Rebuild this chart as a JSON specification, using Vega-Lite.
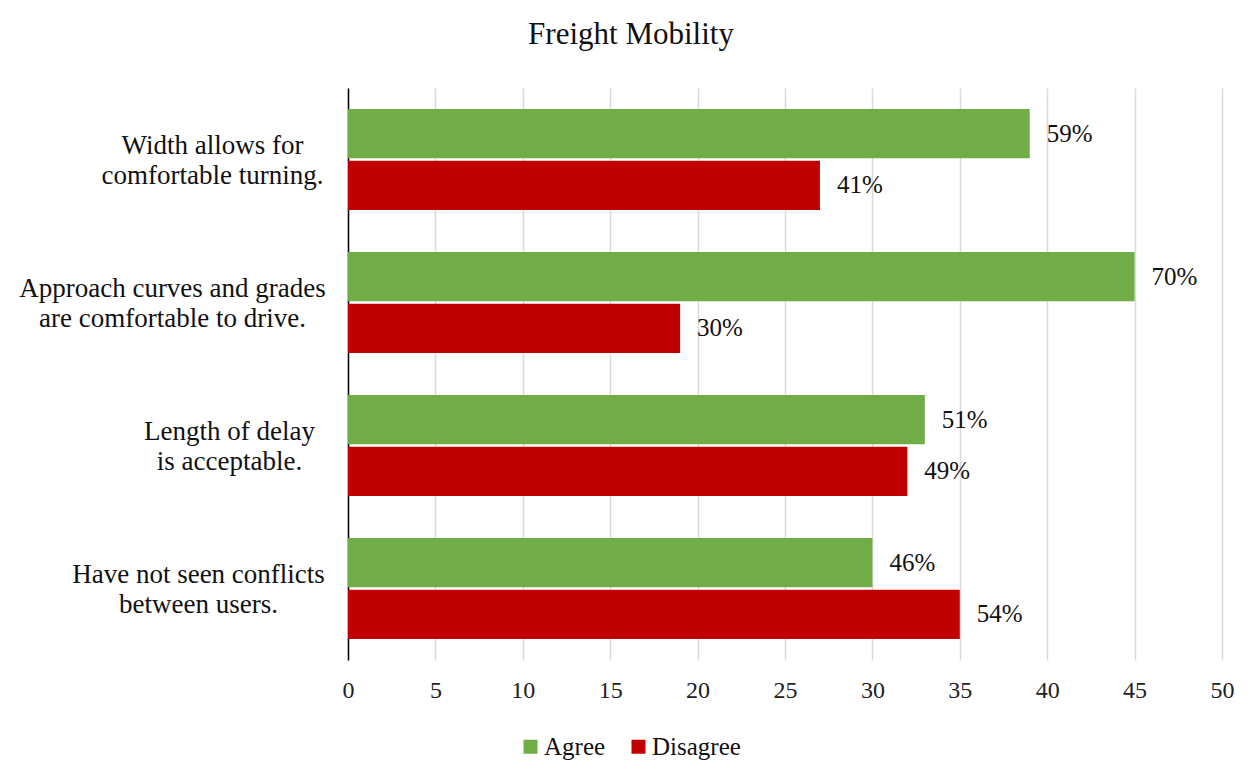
{
  "$schema": "https://vega.github.io/schema/vega-lite/v6.json",
  "width": 874,
  "height": 572,
  "autosize": {"type": "none"},
  "padding": {"left": 348, "top": 88, "right": 32, "bottom": 120},
  "background": "white",
  "title": {
    "text": "Freight Mobility",
    "font": "Liberation Serif",
    "fontSize": 31,
    "fontWeight": "normal",
    "color": "#111111",
    "anchor": "middle",
    "frame": "group",
    "dx": -154,
    "offset": 37
  },
  "data": {
    "values": [
      {"statement": "Width allows for\ncomfortable turning.", "response": "Agree", "count": 39, "pct": "59%"},
      {"statement": "Width allows for\ncomfortable turning.", "response": "Disagree", "count": 27, "pct": "41%"},
      {"statement": "Approach curves and grades\nare comfortable to drive.", "response": "Agree", "count": 45, "pct": "70%"},
      {"statement": "Approach curves and grades\nare comfortable to drive.", "response": "Disagree", "count": 19, "pct": "30%"},
      {"statement": "Length of delay\nis acceptable.", "response": "Agree", "count": 33, "pct": "51%"},
      {"statement": "Length of delay\nis acceptable.", "response": "Disagree", "count": 32, "pct": "49%"},
      {"statement": "Have not seen conflicts\nbetween users.", "response": "Agree", "count": 30, "pct": "46%"},
      {"statement": "Have not seen conflicts\nbetween users.", "response": "Disagree", "count": 35, "pct": "54%"}
    ]
  },
  "encoding": {
    "y": {
      "field": "statement",
      "type": "nominal",
      "sort": null,
      "scale": {"paddingInner": 0.294, "paddingOuter": 0.147},
      "axis": {
        "title": null,
        "labelExpr": "split(datum.value, '\\n')",
        "labelFont": "Liberation Serif",
        "labelFontSize": 27,
        "labelLineHeight": 30,
        "labelColor": "#111111",
        "labelAlign": "center",
        "labelBaseline": "middle",
        "labelOffset": -14,
        "labelLimit": 0,
        "labelPadding": {
          "condition": [
            {"test": "indexof(datum.value, 'Width') >= 0", "value": 136},
            {"test": "indexof(datum.value, 'Approach') >= 0", "value": 176},
            {"test": "indexof(datum.value, 'Length') >= 0", "value": 119}
          ],
          "value": 150
        },
        "ticks": false,
        "tickSize": 0,
        "domain": true,
        "domainColor": "#000000",
        "domainWidth": 1.5,
        "grid": false
      }
    },
    "yOffset": {
      "field": "response",
      "type": "nominal",
      "sort": ["Agree", "Disagree"],
      "scale": {"paddingInner": 0.05}
    }
  },
  "layer": [
    {
      "mark": {"type": "bar"},
      "encoding": {
        "x": {
          "field": "count",
          "type": "quantitative",
          "scale": {"domain": [0, 50], "nice": false},
          "axis": {
            "title": null,
            "values": [0, 5, 10, 15, 20, 25, 30, 35, 40, 45, 50],
            "labelFont": "Liberation Serif",
            "labelFontSize": 24,
            "labelColor": "#222222",
            "labelPadding": 18,
            "labelFlush": false,
            "ticks": false,
            "domain": false,
            "grid": true,
            "gridColor": "#D9D9D9",
            "gridWidth": 1.5
          }
        },
        "color": {
          "field": "response",
          "type": "nominal",
          "sort": ["Agree", "Disagree"],
          "scale": {"domain": ["Agree", "Disagree"], "range": ["#70AD47", "#C00000"]},
          "legend": {
            "title": null,
            "orient": "none",
            "legendX": 170,
            "legendY": 646,
            "direction": "horizontal",
            "symbolType": "square",
            "symbolSize": 196,
            "symbolStrokeWidth": 0,
            "labelFont": "Liberation Serif",
            "labelFontSize": 25,
            "labelColor": "#111111",
            "labelOffset": 1,
            "columnPadding": 20
          }
        }
      }
    },
    {
      "mark": {
        "type": "text",
        "align": "left",
        "baseline": "middle",
        "dx": 17,
        "font": "Liberation Serif",
        "fontSize": 25,
        "color": "#111111"
      },
      "encoding": {
        "x": {"field": "count", "type": "quantitative"},
        "text": {"field": "pct", "type": "nominal"}
      }
    }
  ],
  "config": {
    "view": {"stroke": null}
  }
}
